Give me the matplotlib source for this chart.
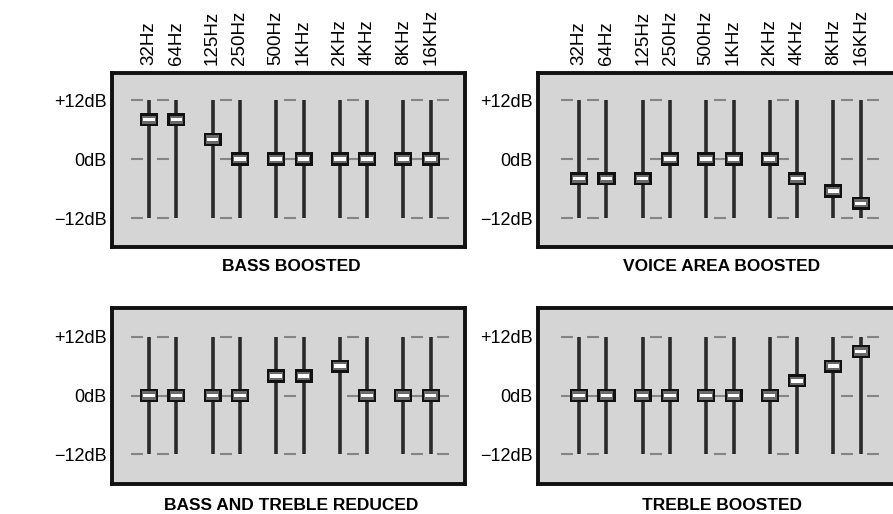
import numpy as np
import matplotlib.pyplot as plt

plt.rcParams['font.family'] = ['Liberation Sans', 'DejaVu Sans']

bands = ['32Hz', '64Hz', '125Hz', '250Hz', '500Hz', '1KHz', '2KHz', '4KHz', '8KHz', '16KHz']
levels = [12, 0, -12]
level_labels = ['+12dB', '0dB', '\u221212dB']

bass_boosted = [8, 8, 4, 0, 0, 0, 0, 0, 0, 0]
voice_boosted = [-4, -4, -4, 0, 0, 0, 0, -4, -6.5, -9]
bass_treble_reduced = [0, 0, 0, 0, 4, 4, 6, 0, 0, 0]
treble_boosted = [0, 0, 0, 0, 0, 0, 0, 3, 6, 9]

titles = ['BASS BOOSTED', 'VOICE AREA BOOSTED', 'BASS AND TREBLE REDUCED', 'TREBLE BOOSTED']
settings = [bass_boosted, voice_boosted, bass_treble_reduced, treble_boosted]

# sliders come in pairs
idx = np.arange(len(bands))
xpos = idx + (idx // 2) * 0.32

W, H = 893, 514
fig = plt.figure(figsize=(W / 100, H / 100), dpi=100)

# boxes in pixels: left, top, right, bottom
boxes = [(112, 73, 465, 247), (538, 73, 899, 247),
         (112, 308, 465, 484), (538, 308, 899, 484)]
ylims = [(-17.9, 17.5), (-17.9, 17.5), (-18.1, 17.9), (-18.1, 17.9)]
xlims = [(-1.35, 1.25), (-1.5, 1.4), (-1.35, 1.25), (-1.5, 1.4)]

pairs = xpos.reshape(-1, 2)
dash_x = list(pairs.mean(axis=1)) + [xpos[0] - 0.45, xpos[-1] + 0.45]

for k in range(4):
    l, t, r, b = boxes[k]
    ax = fig.add_axes([l / W, 1 - b / H, (r - l) / W, (b - t) / H])
    ax.set_facecolor('#d5d5d5')
    for s in ax.spines.values():
        s.set_linewidth(2.8)
        s.set_color('#111111')

    vals = np.array(settings[k])

    # level dashes
    for lv in levels:
        for dx in dash_x:
            ax.plot([dx - 0.22, dx + 0.22], [lv, lv], color='#858585', lw=1.5,
                    solid_capstyle='butt', zorder=1)

    # tracks
    ax.vlines(xpos, -12, 12, color='#2a2a2a', lw=2.6, zorder=2)

    # knobs
    ax.bar(xpos, 2.7, width=0.66, bottom=vals - 1.35, color='#111111', zorder=3)
    ax.bar(xpos, 1.7, width=0.5, bottom=vals - 0.85, color='#6a6a6a', zorder=4)
    ax.bar(xpos, 0.7, width=0.42, bottom=vals - 0.35, color='white', zorder=5)

    ax.set_xlim(xpos[0] + xlims[k][0], xpos[-1] + xlims[k][1])
    ax.set_ylim(*ylims[k])
    ax.set_yticks(levels, level_labels, fontsize=13)
    ax.tick_params(axis='y', length=0, pad=4)
    if k < 2:
        ax.xaxis.tick_top()
        ax.set_xticks(xpos, bands, rotation=90, fontsize=13.5)
        ax.tick_params(axis='x', length=0, pad=6)
    else:
        ax.set_xticks([])

    ty = -0.11 if k < 2 else -0.12
    ax.text(0.5 + 3 / (r - l), ty, titles[k], transform=ax.transAxes,
            ha='center', va='center', fontsize=12.5, fontweight='bold')

fig.savefig('out.png', dpi=100)
